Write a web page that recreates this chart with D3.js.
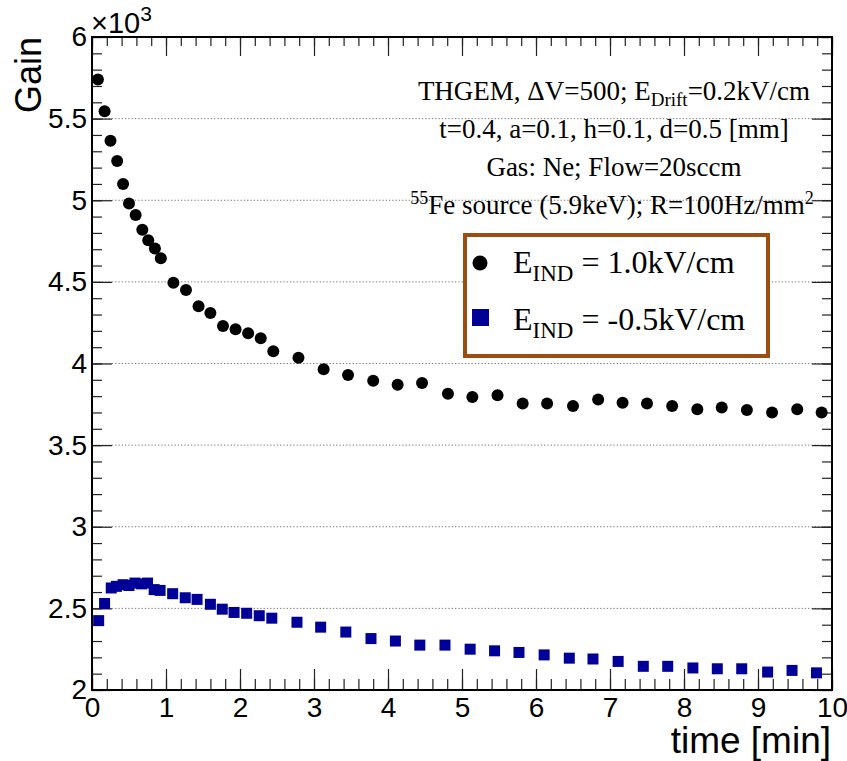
<!DOCTYPE html>
<html>
<head>
<meta charset="utf-8">
<script src="https://cdn.jsdelivr.net/npm/d3@7"></script>
<style>
  body { margin: 0; background: #fff; }
  .tick text { font-family: "Liberation Sans", Arial, sans-serif; font-size: 28px; fill: #000; }
  .tick line { stroke: #222; stroke-width: 1.2; }
</style>
</head>
<body>
<svg id="chart" width="847" height="761"></svg>
<script>
// E_IND = 1.0 kV/cm
var timeA = [0.08,0.17,0.25,0.34,0.42,0.50,0.59,0.68,0.76,0.85,0.93,1.10,1.27,1.44,1.60,1.77,1.94,2.11,2.28,2.45,2.79,3.13,3.46,3.80,4.13,4.46,4.81,5.14,5.48,5.82,6.15,6.50,6.84,7.17,7.50,7.84,8.18,8.51,8.85,9.19,9.53,9.86];
var gainA = [5740,5545,5365,5240,5100,4980,4910,4820,4755,4705,4645,4495,4450,4350,4310,4230,4210,4185,4155,4075,4035,3965,3930,3895,3870,3880,3815,3795,3805,3755,3755,3740,3780,3760,3755,3740,3720,3730,3715,3700,3720,3700];

// E_IND = -0.5 kV/cm
var timeB = [0.09,0.17,0.26,0.33,0.42,0.50,0.58,0.67,0.75,0.84,0.92,1.09,1.26,1.42,1.60,1.76,1.92,2.09,2.26,2.43,2.77,3.09,3.43,3.77,4.10,4.43,4.77,5.11,5.44,5.77,6.11,6.45,6.77,7.11,7.45,7.78,8.12,8.45,8.78,9.13,9.46,9.79];
var gainB = [2425,2530,2625,2635,2645,2640,2655,2650,2655,2615,2610,2590,2565,2555,2525,2495,2475,2470,2455,2440,2415,2385,2355,2315,2300,2275,2275,2250,2240,2230,2215,2195,2190,2175,2145,2145,2135,2130,2130,2110,2120,2105];

var xMajor = [0,1,2,3,4,5,6,7,8,9,10];
var xMinor = d3.range(0, 10.01, 0.2);
var yMajor = [2000,2500,3000,3500,4000,4500,5000,5500,6000];
var yMinor = d3.range(2000, 6001, 100);

var svg = d3.select('#chart');
var margin = {top: 37, right: 15, bottom: 71, left: 92};
var W = 847 - margin.left - margin.right;
var H = 761 - margin.top - margin.bottom;

var x = d3.scaleLinear().domain([0, 10]).range([0, W]);
var y = d3.scaleLinear().domain([2000, 6000]).range([H, 0]);

var g = svg.append("g").attr("transform", "translate(" + margin.left + "," + margin.top + ")");

// dotted grid on major y values
g.selectAll(".grid")
    .data(yMajor.filter(function(d){ return d > 2000 && d < 6000; }))
    .enter().append("line")
    .attr("class", "grid")
    .attr("x1", 0).attr("x2", W)
    .attr("y1", function(d){ return y(d); })
    .attr("y2", function(d){ return y(d); })
    .attr("stroke", "#777")
    .attr("stroke-width", 1)
    .attr("stroke-dasharray", "1.3,2");

function fmtY(d){ return d3.format("~g")(d / 1000); }

// left axis
g.append("g").call(d3.axisLeft(y).tickValues(yMinor).tickSize(-10).tickFormat(""));
g.append("g").call(d3.axisLeft(y).tickValues(yMajor).tickSize(-20).tickPadding(5).tickFormat(fmtY));
// right axis
g.append("g").attr("transform", "translate(" + W + ",0)")
    .call(d3.axisRight(y).tickValues(yMinor).tickSize(-10).tickFormat(""));
g.append("g").attr("transform", "translate(" + W + ",0)")
    .call(d3.axisRight(y).tickValues(yMajor).tickSize(-20).tickFormat(""));
// bottom axis
g.append("g").attr("transform", "translate(0," + H + ")")
    .call(d3.axisBottom(x).tickValues(xMinor).tickSize(-11).tickFormat(""));
g.append("g").attr("transform", "translate(0," + H + ")")
    .call(d3.axisBottom(x).tickValues(xMajor).tickSize(-21).tickPadding(7).tickFormat(d3.format("d")));
// top axis
g.append("g").call(d3.axisTop(x).tickValues(xMinor).tickSize(-9).tickFormat(""));
g.append("g").call(d3.axisTop(x).tickValues(xMajor).tickSize(-19).tickFormat(""));

g.selectAll(".domain").remove();

// frame
g.append("rect")
    .attr("x", 0).attr("y", 0).attr("width", W).attr("height", H)
    .attr("fill", "none").attr("stroke", "#000").attr("stroke-width", 2);

// series
g.selectAll(".ptA")
    .data(d3.zip(timeA, gainA))
    .enter().append("circle")
    .attr("cx", function(d){ return x(d[0]); })
    .attr("cy", function(d){ return y(d[1]); })
    .attr("r", 6)
    .attr("fill", "#000");

var sq = 11;
g.selectAll(".ptB")
    .data(d3.zip(timeB, gainB))
    .enter().append("rect")
    .attr("x", function(d){ return x(d[0]) - sq/2; })
    .attr("y", function(d){ return y(d[1]) - sq/2; })
    .attr("width", sq).attr("height", sq)
    .attr("fill", "#000099");

// axis titles
svg.append("text")
    .attr("transform", "translate(41," + margin.top + ") rotate(-90)")
    .attr("text-anchor", "end")
    .style("font-family", "Liberation Sans, Arial, sans-serif")
    .style("font-size", "36px")
    .text("Gain");

svg.append("text")
    .attr("x", margin.left + W - 1).attr("y", 753)
    .attr("text-anchor", "end")
    .style("font-family", "Liberation Sans, Arial, sans-serif")
    .style("font-size", "37px")
    .text("time [min]");

var mult = svg.append("text")
    .attr("x", margin.left - 1).attr("y", 33)
    .style("font-family", "Liberation Sans, Arial, sans-serif")
    .style("font-size", "29px");
mult.append("tspan").text("\u00d710");
mult.append("tspan").attr("dy", -12).style("font-size", "21px").text("3");

// info text
var serif = "Liberation Serif, Times New Roman, serif";
var info = svg.append("g")
    .style("font-family", serif)
    .style("font-size", "27px")
    .attr("text-anchor", "middle");

var l1 = info.append("text").attr("x", 614).attr("y", 100);
l1.append("tspan").text("THGEM, \u0394V=500; E");
l1.append("tspan").attr("dy", 6).style("font-size", "19px").text("Drift");
l1.append("tspan").attr("dy", -6).text("=0.2kV/cm");

info.append("text").attr("x", 614).attr("y", 138).text("t=0.4, a=0.1, h=0.1, d=0.5 [mm]");
info.append("text").attr("x", 614).attr("y", 176).text("Gas: Ne; Flow=20sccm");

var l4 = info.append("text").attr("x", 612).attr("y", 214);
l4.append("tspan").attr("dy", -10).style("font-size", "18px").text("55");
l4.append("tspan").attr("dy", 10).text("Fe source (5.9keV); R=100Hz/mm");
l4.append("tspan").attr("dy", -10).style("font-size", "18px").text("2");

// legend
var leg = svg.append("g");
leg.append("rect")
    .attr("x", 465).attr("y", 235).attr("width", 303).attr("height", 121)
    .attr("fill", "#fff").attr("stroke", "#9b4d12").attr("stroke-width", 4);

leg.append("circle").attr("cx", 480).attr("cy", 263).attr("r", 7.5).attr("fill", "#000");
leg.append("rect").attr("x", 472).attr("y", 309).attr("width", 17).attr("height", 17).attr("fill", "#000099");

var legendLabels = [["1.0kV/cm", 273], ["-0.5kV/cm", 330]];
legendLabels.forEach(function(l){
  var t = leg.append("text")
      .attr("x", 513).attr("y", l[1])
      .style("font-family", serif)
      .style("font-size", "32px");
  t.append("tspan").text("E");
  t.append("tspan").attr("dy", 8).style("font-size", "23px").text("IND");
  t.append("tspan").attr("dy", -8).text(" = " + l[0]);
});
</script>
</body>
</html>
